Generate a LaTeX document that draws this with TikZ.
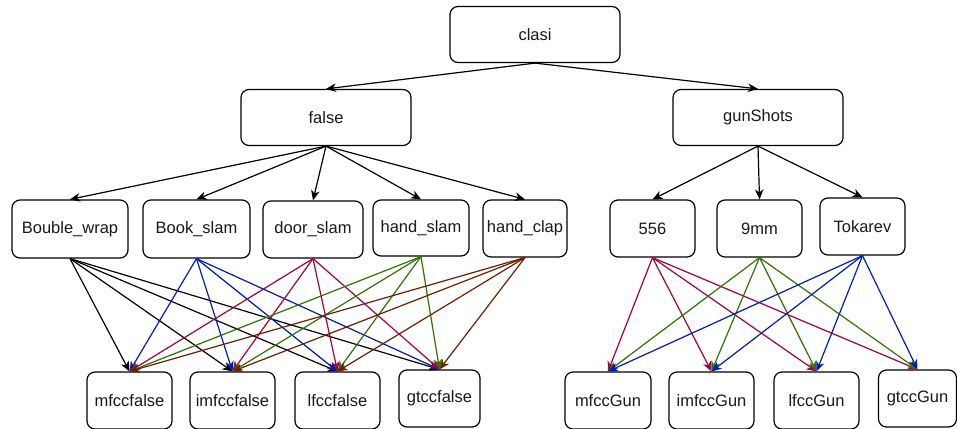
\documentclass[tikz,border=0pt]{standalone}
\usepackage{fontspec}
\setmainfont{Liberation Sans}
\usetikzlibrary{arrows.meta}
\definecolor{cblue}{HTML}{001DBC}
\definecolor{ccrim}{HTML}{A50040}
\definecolor{cgreen}{HTML}{2D7600}
\definecolor{cbrown}{HTML}{6D1F00}
\begin{document}
\begin{tikzpicture}[x=1pt,y=-1pt,
  box/.style={draw=black,line width=1.2pt,rounded corners=8pt,inner sep=0pt,
    font=\fontsize{16.5}{18}\selectfont,text=black!90},
  link/.style={line width=1.2pt,-{Stealth[length=10pt,width=8.5pt,inset=3pt]}},
]
\useasboundingbox (0,0) rectangle (957,428);
\fill[white] (0,0) rectangle (957,428);
% top
\node[box,minimum width=170pt,minimum height=56pt] (clasi) at (535,34.5) {clasi};
\node[box,minimum width=170pt,minimum height=56pt] (false) at (326,117.5) {false};
\node[box,minimum width=170pt,minimum height=56pt] (gun) at (758,117.5) {gunShots};
% row 2
\node[box,minimum width=116pt,minimum height=58pt] (bw) at (70,229) {Bouble\_wrap};
\node[box,minimum width=107pt,minimum height=58pt] (bs) at (196.5,229) {Book\_slam};
\node[box,minimum width=100pt,minimum height=57pt] (ds) at (313,229.5) {door\_slam};
\node[box,minimum width=96pt,minimum height=56pt] (hs) at (421,228) {hand\_slam};
\node[box,minimum width=84pt,minimum height=57pt] (hc) at (525,228.5) {hand\_clap};
\node[box,minimum width=85pt,minimum height=57pt] (s556) at (652.5,228.5) {556};
\node[box,minimum width=85pt,minimum height=57pt] (s9mm) at (759.5,228.5) {9mm};
\node[box,minimum width=85pt,minimum height=57pt] (tok) at (862.5,226.5) {Tokarev};
% bottom
\node[box,minimum width=85pt,minimum height=57pt] (mf) at (129.5,400.5) {mfccfalse};
\node[box,minimum width=85pt,minimum height=57pt] (imf) at (232.5,400.5) {imfccfalse};
\node[box,minimum width=85pt,minimum height=57pt] (lf) at (337.5,400.5) {lfccfalse};
\node[box,minimum width=81pt,minimum height=57pt] (gf) at (439.5,398.5) {gtccfalse};
\node[box,minimum width=86pt,minimum height=57pt] (mg) at (608,400.5) {mfccGun};
\node[box,minimum width=85pt,minimum height=57pt] (img) at (711.5,400.5) {imfccGun};
\node[box,minimum width=85pt,minimum height=57pt] (lg) at (816.5,400.5) {lfccGun};
\node[box,minimum width=78pt,minimum height=57pt] (gg) at (917.5,398.5) {gtccGun};
% top edges
\draw[link] (clasi.south) -- (false.north);
\draw[link] (clasi.south) -- (gun.north);
\foreach \t in {bw,bs,ds,hs,hc} \draw[link] (false.south) -- (\t.north);
\foreach \t in {s556,s9mm,tok} \draw[link] (gun.south) -- (\t.north);
% lower edges
\foreach \t in {mf,imf,lf,gf} \draw[link,black] (bw.south) -- (\t.north);
\foreach \t in {mf,imf,lf,gf} \draw[link,cblue] (bs.south) -- (\t.north);
\foreach \t in {mf,imf,lf,gf} \draw[link,ccrim] (ds.south) -- (\t.north);
\foreach \t in {mf,imf,lf,gf} \draw[link,cgreen] (hs.south) -- (\t.north);
\foreach \t in {mf,imf,lf,gf} \draw[link,cbrown] (hc.south) -- (\t.north);
\foreach \t in {mg,img,lg,gg} \draw[link,ccrim] (s556.south) -- (\t.north);
\foreach \t in {mg,img,lg,gg} \draw[link,cgreen] (s9mm.south) -- (\t.north);
\foreach \t in {mg,img,lg,gg} \draw[link,cblue] (tok.south) -- (\t.north);
\end{tikzpicture}
\end{document}
